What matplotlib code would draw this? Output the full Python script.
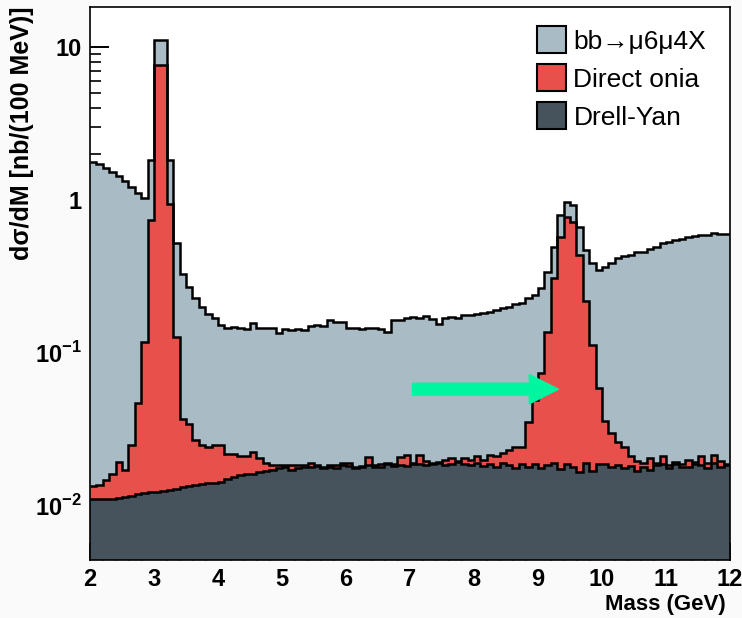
import matplotlib
matplotlib.use("Agg")
import matplotlib.pyplot as plt
import numpy as np
from matplotlib.patches import Patch
from matplotlib.ticker import FixedLocator, FixedFormatter, MultipleLocator

# bin edges: 2-12 GeV, 100 MeV bins
edges = np.round(np.arange(2.0, 12.0001, 0.1), 2)

# bb -> mu6mu4X (top of the stack)
bb = [1.78, 1.72, 1.63, 1.53, 1.43, 1.33, 1.22, 1.12, 1.03, 1.83,
      11.2, 11.2, 1.83, 0.52, 0.33, 0.27, 0.23, 0.20, 0.18, 0.17,
      0.152, 0.146, 0.147, 0.145, 0.144, 0.157, 0.146, 0.145, 0.146, 0.134,
      0.143, 0.142, 0.143, 0.141, 0.150, 0.151, 0.149, 0.164, 0.160, 0.158,
      0.146, 0.145, 0.144, 0.146, 0.145, 0.143, 0.137, 0.164, 0.163, 0.170,
      0.172, 0.168, 0.175, 0.166, 0.155, 0.170, 0.172, 0.169, 0.176, 0.178,
      0.180, 0.183, 0.186, 0.192, 0.196, 0.200, 0.210, 0.212, 0.228, 0.240,
      0.265, 0.338, 0.49, 0.80, 0.97, 0.93, 0.67, 0.47, 0.39, 0.35,
      0.365, 0.39, 0.42, 0.43, 0.44, 0.46, 0.46, 0.48, 0.49, 0.52,
      0.53, 0.55, 0.56, 0.57, 0.58, 0.59, 0.59, 0.61, 0.60, 0.60]

# direct onia (+ Drell-Yan underneath)
onia = [0.0135, 0.0137, 0.0147, 0.0160, 0.0193, 0.0170, 0.0250, 0.0470, 0.117, 0.74,
        7.66, 7.66, 0.95, 0.127, 0.037, 0.034, 0.027, 0.025, 0.024, 0.025,
        0.025, 0.0218, 0.0218, 0.021, 0.021, 0.0223, 0.0205, 0.0190, 0.0185, 0.0183,
        0.0184, 0.0183, 0.0185, 0.0184, 0.0190, 0.0184, 0.0175, 0.0184, 0.0185, 0.0190,
        0.0190, 0.0176, 0.0178, 0.0208, 0.0184, 0.0186, 0.0190, 0.0186, 0.0208, 0.0213,
        0.0186, 0.0213, 0.0195, 0.0190, 0.0192, 0.0200, 0.0206, 0.0196, 0.0205, 0.0200,
        0.0210, 0.0200, 0.0215, 0.0212, 0.0220, 0.0230, 0.0240, 0.0242, 0.035, 0.049,
        0.074, 0.137, 0.31, 0.57, 0.77, 0.72, 0.44, 0.22, 0.112, 0.059,
        0.036, 0.030, 0.026, 0.024, 0.021, 0.0195, 0.0190, 0.0205, 0.0190, 0.0212,
        0.0185, 0.0193, 0.0186, 0.0200, 0.0192, 0.0210, 0.0190, 0.0213, 0.0195, 0.0185]

# Drell-Yan
dy = [0.0110, 0.0110, 0.0110, 0.0111, 0.0112, 0.0113, 0.0116, 0.0119, 0.0121, 0.0122,
      0.0123, 0.0125, 0.0127, 0.0129, 0.0132, 0.0134, 0.0137, 0.0139, 0.0140, 0.0140,
      0.0142, 0.0150, 0.0154, 0.0158, 0.0160, 0.0162, 0.0166, 0.0168, 0.0172, 0.0176,
      0.0178, 0.0172, 0.0175, 0.0178, 0.0180, 0.0182, 0.0178, 0.0180, 0.0176, 0.0184,
      0.0182, 0.0180, 0.0182, 0.0184, 0.0180, 0.0178, 0.0186, 0.0182, 0.0184, 0.0182,
      0.0190, 0.0186, 0.0183, 0.0187, 0.0190, 0.0184, 0.0186, 0.0192, 0.0188, 0.0185,
      0.0190, 0.0182, 0.0186, 0.0178, 0.0190, 0.0184, 0.0176, 0.0186, 0.0180, 0.0188,
      0.0176, 0.0184, 0.0190, 0.0174, 0.0186, 0.0180, 0.0166, 0.0190, 0.0168, 0.0186,
      0.0188, 0.0180, 0.0184, 0.0176, 0.0182, 0.0168, 0.0180, 0.0170, 0.0184, 0.0186,
      0.0176, 0.0188, 0.0180, 0.0178, 0.0188, 0.0184, 0.0176, 0.0190, 0.0180, 0.0186]

labels = ["bb\u2192\u03bc6\u03bc4X", "Direct onia", "Drell-Yan"]
colors = ["#a9bcc5", "#e8504b", "#47535c"]

plt.rcParams["font.family"] = ["Liberation Sans", "DejaVu Sans"]
plt.rcParams["mathtext.fontset"] = "custom"
plt.rcParams["mathtext.rm"] = "Liberation Sans:bold"
plt.rcParams["mathtext.bf"] = "Liberation Sans:bold"

fig = plt.figure(figsize=(7.42, 6.18), dpi=100, facecolor="#fafafa")
ax = fig.add_axes([0.1213, 0.0939, 0.8625, 0.8948])

for vals, col in zip([bb, onia, dy], colors):
    ax.stairs(vals, edges, fill=True, baseline=1e-4, facecolor=col,
              edgecolor="none", zorder=2)
    ax.stairs(vals, edges, baseline=None, color="black", linewidth=1.8, zorder=3)

ax.annotate("", xy=(9.32, 0.0578), xytext=(7.04, 0.0578),
            arrowprops=dict(arrowstyle="simple,head_length=2.1,head_width=2.1,tail_width=0.85",
                            mutation_scale=10, color="#00f5a0", shrinkA=0, shrinkB=0),
            zorder=5)

ax.set_yscale("log")
ax.set_xlim(2, 12)
ax.set_ylim(0.0044, 18.4)

ax.xaxis.set_major_locator(MultipleLocator(1))
ax.xaxis.set_minor_locator(MultipleLocator(0.2))
ax.yaxis.set_major_locator(FixedLocator([1e-2, 1e-1, 1, 10]))
ax.yaxis.set_major_formatter(FixedFormatter([r"$10^{-2}$", r"$10^{-1}$", "1", "10"]))
minors = [m * 10.0 ** e for e in range(-3, 2) for m in range(2, 10)]
ax.yaxis.set_minor_locator(FixedLocator(minors))
ax.yaxis.set_minor_formatter(FixedFormatter([""] * len(minors)))

ax.tick_params(axis="both", which="both", direction="in", top=False, right=False,
               labelsize=17, pad=6)
ax.tick_params(axis="x", which="major", length=12, width=1.2)
ax.tick_params(axis="x", which="minor", length=6, width=1)
ax.tick_params(axis="y", which="major", length=14, width=1.4)
ax.tick_params(axis="y", which="minor", length=8, width=1.2)
for lab in ax.get_xticklabels() + ax.get_yticklabels():
    lab.set_fontweight("bold")
for s in ax.spines.values():
    s.set_linewidth(1.2)
    s.set_zorder(6)

handles = [Patch(facecolor=c, edgecolor="black", linewidth=1.5) for c in colors]
ax.legend(handles, labels, loc="upper right", frameon=False, fontsize=19,
          handlelength=1.1, handleheight=1.2, handletextpad=0.3,
          labelspacing=0.4, borderaxespad=0.5, bbox_to_anchor=(1.0, 1.008))

fig.text(0.978, 0.022, "Mass (GeV)", ha="right", va="center",
         fontsize=16, fontweight="bold")
fig.text(0.03, 0.99, "d\u03c3/dM [nb/(100 MeV)]", ha="center", va="top",
         rotation=90, fontsize=18, fontweight="bold")

fig.savefig("out.png", dpi=100, facecolor=fig.get_facecolor())
